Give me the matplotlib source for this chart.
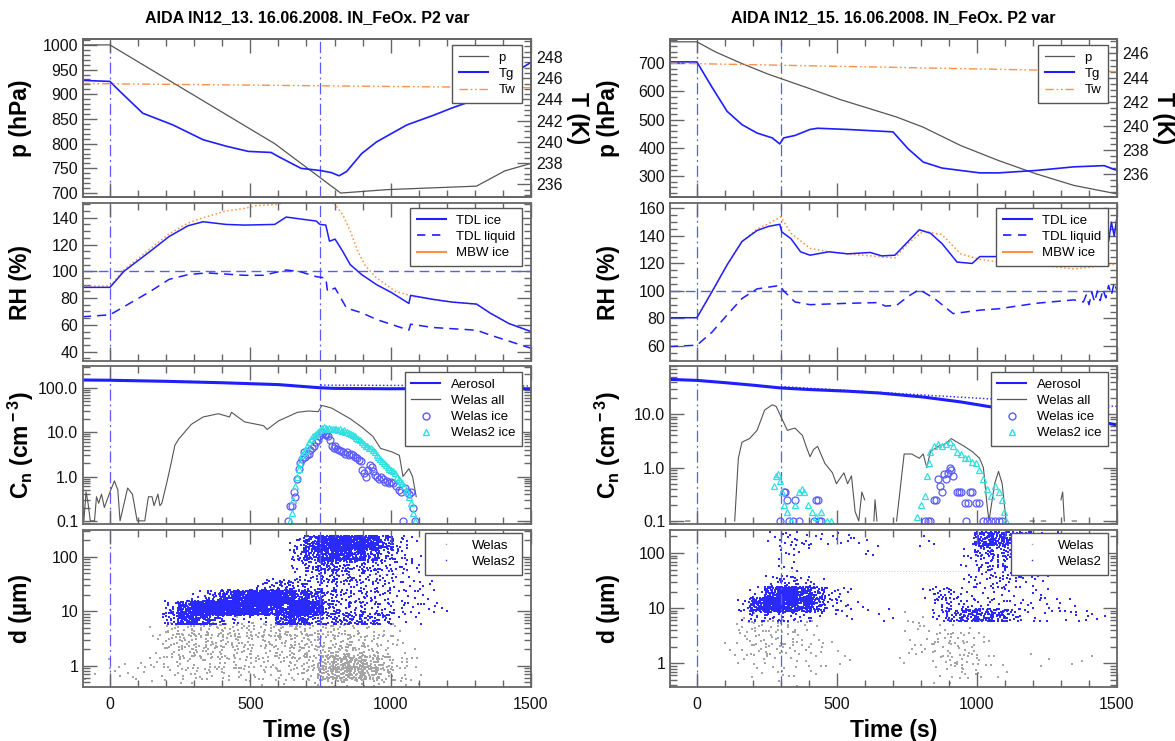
import numpy as np
import matplotlib
matplotlib.use('Agg')
import matplotlib.pyplot as plt
from matplotlib.lines import Line2D
from matplotlib.ticker import MultipleLocator, FixedLocator, FixedFormatter, LogLocator, NullFormatter

plt.rcParams['font.family'] = ['Liberation Sans', 'DejaVu Sans']
plt.rcParams['mathtext.fontset'] = 'custom'
plt.rcParams['mathtext.rm'] = 'Liberation Sans:bold'
plt.rcParams['mathtext.it'] = 'Liberation Sans:bold'
plt.rcParams['mathtext.bf'] = 'Liberation Sans:bold'

# ---------------- data, left experiment (IN12_13) ----------------
title_L = 'AIDA IN12_13. 16.06.2008. IN_FeOx. P2 var'
marks_L = [0, 750]

p_t_L = [-100, 0, 587, 822, 990, 1306, 1407, 1500]
p_L = [1000, 1000, 800, 700, 707, 714, 745, 760]
tg_t_L = [-100, 0, 30, 117, 224, 332, 413, 493, 574, 601, 681, 749, 789, 816, 843, 897, 950,
          1004, 1058, 1152, 1219, 1262, 1300, 1445, 1500]
tg_L = [245.8, 245.7, 244.9, 242.7, 241.6, 240.2, 239.6, 239.1, 239.0, 238.6, 237.5, 237.3, 237.1,
        236.8, 237.2, 238.9, 240.0, 240.8, 241.6, 242.5, 243.2, 243.6, 244.1, 246.6, 247.5]
tw_t_L = [-100, 1500]
tw_L = [245.5, 245.1]

ice_t_L = [-100, 0, 50, 144, 211, 278, 332, 413, 480, 587, 628, 681, 735, 748, 769, 782, 802, 829,
           856, 897, 950, 1004, 1065, 1071, 1152, 1219, 1306, 1353, 1421, 1500]
ice_L = [88, 88, 100, 115, 126, 134, 137, 135, 134.5, 135, 140.5, 139, 137.5, 135, 134.5, 122.5, 124,
         115, 105, 97.5, 90, 84, 76, 82, 79, 77, 75.5, 69, 61, 55]
liq_t_L = [-100, 0, 144, 211, 278, 345, 480, 547, 628, 681, 735, 769, 775, 802, 843, 897, 950,
           1065, 1071, 1152, 1306, 1353, 1500]
liq_L = [66, 67.5, 85, 94, 97.5, 98.8, 97, 97, 101, 99.5, 96, 95, 85, 87.5, 72.5, 69, 64, 56, 60.5,
         58, 56, 52.5, 42.5]
mbw_t_L = [-100, 0, 50, 144, 211, 278, 332, 413, 480, 520, 600, 640, 790, 829, 856, 883, 910, 950,
           1017, 1085, 1152, 1219, 1306, 1353, 1421, 1500]
mbw_L = [89, 89, 101, 117, 128, 136, 140, 145, 147, 149, 150, 153, 153, 142.5, 130, 115, 104, 95, 85,
         81, 79, 77, 75.5, 69, 61, 55]

aer_t_L = [-100, 0, 200, 400, 600, 750, 800, 1000, 1200, 1500]
aer_L = [150, 148, 140, 130, 118, 100, 97, 95, 97, 95]
aer_ref_t_L = [750, 1500]
aer_ref_L = [115, 110]
wall_t_L = [-100, -93, -85, -78, -70, -55, -48, -40, -30, -20, 3, 16, 28, 36, 63, 80, 97, 124, 137,
            150, 157, 171, 178, 185, 204, 218, 231, 245, 290, 332, 386, 426, 433, 480, 547, 560, 601,
            668, 708, 742, 755, 789, 816, 856, 897, 937, 964, 1004, 1031, 1044, 1065, 1078, 1091]
wall_L = [0.35, 0.1, 0.45, 0.25, 0.1, 0.1, 0.35, 0.25, 0.4, 0.2, 0.5, 0.8, 0.5, 0.1, 0.55, 0.4, 0.1,
          0.1, 0.35, 0.35, 0.22, 0.4, 0.22, 0.25, 0.8, 2.0, 5.0, 7.0, 15, 22, 26, 22, 28, 17, 14,
          11.5, 18, 28, 30, 29, 40, 35, 28, 20, 13, 8, 4.3, 3.6, 3.0, 1.0, 1.5, 1.0, 0.35]
wice_t_L = [635, 642, 648, 655, 660, 666, 672, 678, 684, 690, 696, 702, 708, 714, 720, 727, 733, 740,
            746, 752, 758, 765, 771, 778, 784, 790, 797, 803, 810, 817, 824, 831, 838, 845, 852, 859,
            866, 873, 880, 887, 893, 899, 905, 911, 918, 925, 932, 938, 945, 952, 958, 965, 972, 979,
            986, 993, 1000, 1010, 1020, 1030, 1038, 1044, 1050, 1058, 1065, 1072, 1078, 1085]
wice_L = [0.1, 0.22, 0.22, 0.45, 0.35, 0.9, 1.5, 2.0, 2.5, 3.5, 2.8, 3.0, 3.2, 4.0, 4.5, 5.0, 6.0,
          6.5, 8.0, 10.0, 9.5, 9.0, 8.5, 8.0, 6.5, 5.0, 4.5, 5.0, 4.2, 4.0, 3.8, 3.5, 3.2, 3.5, 3.0,
          3.2, 3.0, 2.8, 2.6, 2.4, 2.2, 1.4, 1.2, 1.0, 1.4, 1.8, 1.6, 1.3, 1.1, 1.0, 0.9, 1.0, 0.9,
          0.75, 0.8, 0.7, 0.75, 0.7, 0.6, 0.5, 0.45, 0.1, 0.55, 0.45, 0.4, 0.45, 0.2, 0.1]
w2ice_t_L = [640, 647, 653, 660, 666, 672, 678, 684, 690, 697, 703, 710, 716, 722, 729, 735, 742,
             748, 755, 761, 768, 774, 781, 787, 794, 800, 807, 813, 820, 826, 833, 839, 846, 852,
             859, 865, 872, 878, 885, 891, 898, 904, 911, 917, 924, 930, 937, 943, 950, 956, 963,
             969, 976, 982, 989, 995, 1002, 1008, 1015, 1021, 1028, 1034, 1041, 1047, 1054, 1060,
             1067, 1073, 1080, 1086]
w2ice_L = [0.1, 0.15, 0.3, 0.6, 1.0, 1.5, 2.0, 3.0, 3.5, 4.0, 5.0, 6.0, 7.0, 8.0, 8.5, 9.0, 10.0,
           11.0, 12.5, 13.0, 12.5, 12.0, 12.5, 12.0, 12.0, 11.5, 12.0, 11.0, 11.5, 10.5, 11.0, 10.0,
           10.0, 9.5, 9.0, 8.5, 8.0, 7.5, 7.0, 6.5, 6.0, 5.5, 5.0, 5.0, 4.5, 4.5, 4.0, 3.5, 3.0, 2.8,
           2.5, 2.2, 2.0, 1.8, 1.6, 1.5, 1.4, 1.3, 1.2, 1.0, 0.9, 0.8, 0.7, 0.6, 0.5, 0.45, 0.35,
           0.25, 0.15, 0.1]

# particle size clouds: density level (0-9) per 50 s x 0.2 decade cell, top row first
welas2_map_L = [
    '00000000000000026899852100000000',
    '00000000000000035776532100000000',
    '00000000000000023543322100000000',
    '00000000000000012332221100000000',
    '00000000000013432222221110000000',
    '00000000246899865322221110000000',
    '00000037999987698422221111000000',
    '00000047642111664344431100000000',
    '00000000000000000000000000000000',
    '00000000000000000000000000000000',
    '00000000000000000000000000000000',
    '00000000000000000000000000000000',
    '00000000000000000000000000000000',
    '00000000000000000000000000000000',
]
welas_map_L = [
    '00000000000000000000000000000000',
    '00000000000000000000000000000000',
    '00000000000000000000000000000000',
    '00000000000000000000000000000000',
    '00000000000000000000000000000000',
    '00000000011111110000000000000000',
    '00000000000000000000000000000000',
    '00000022222222222111110000000000',
    '00000133333333333332211000000000',
    '00000133333323333333221000000000',
    '00000123332322333444321100000000',
    '00101122222222233677642100000000',
    '10111112222222223677642100000000',
    '00000001100010101222211100000000',
]
edge_t_L = [700, 1050]

# ---------------- data, right experiment (IN12_15) ----------------
title_R = 'AIDA IN12_15. 16.06.2008. IN_FeOx. P2 var'
marks_R = [0, 300]

p_t_R = [-100, 0, 67, 161, 256, 300, 404, 511, 713, 808, 942, 1077, 1211, 1346, 1500]
p_R = [775, 775, 739, 698, 660, 645, 609, 571, 509, 473, 408, 355, 308, 267, 237]
tg_t_R = [-100, 0, 54, 108, 161, 215, 269, 296, 310, 350, 404, 431, 538, 700, 754, 808, 875, 942,
          1010, 1077, 1211, 1346, 1454, 1500]
tg_R = [245.3, 245.3, 243.2, 241.2, 240.1, 239.4, 239.0, 238.5, 239.0, 239.2, 239.7, 239.8, 239.7,
        239.5, 238.1, 237.0, 236.5, 236.3, 236.1, 236.1, 236.3, 236.6, 236.7, 236.3]
tw_t_R = [-100, 1500]
tw_R = [245.2, 244.5]

ice_t_R = [-100, 0, 54, 108, 161, 215, 256, 296, 303, 336, 370, 404, 471, 538, 619, 660, 707, 754,
           794, 834, 875, 929, 983, 1010, 1077, 1117, 1200, 1300, 1400, 1450, 1460, 1470, 1480,
           1490, 1500]
ice_R = [80.5, 80.5, 99.5, 119, 136, 144, 147, 148.5, 143, 138, 128.5, 126, 128.5, 127, 128, 125.5,
         126, 136, 144.5, 142, 134.5, 121, 120, 125, 125, 126, 128, 130, 135, 132, 142, 136, 150,
         140, 154]
liq_t_R = [-100, 0, 54, 108, 161, 215, 296, 310, 350, 404, 538, 646, 673, 713, 754, 794, 848, 915,
           1010, 1077, 1211, 1346, 1380, 1390, 1400, 1410, 1420, 1430, 1440, 1450, 1460, 1470, 1480,
           1490, 1500]
liq_R = [59.5, 60.5, 70, 82.5, 94.5, 101.5, 104, 100, 92, 90, 91, 91.5, 89, 89.5, 96, 101, 94.5,
         83.5, 86, 87, 91, 93.5, 92, 97, 90, 99, 92, 100, 93, 101, 95, 104, 97, 106, 100]
mbw_t_R = [-100, 0, 54, 108, 161, 215, 256, 300, 336, 404, 471, 538, 673, 707, 754, 808, 875, 942,
           1010, 1077, 1211, 1346, 1500]
mbw_R = [80.5, 80.5, 99.5, 119, 136, 145, 149, 154, 142, 131, 128.5, 127, 124.5, 124, 134.5, 143.5,
         141, 127, 123, 121, 119, 116, 119.5]

aer_t_R = [-100, 0, 100, 200, 300, 400, 538, 650, 808, 942, 1077, 1211, 1346, 1420, 1500]
aer_R = [45, 43, 39, 35, 31, 29, 27, 25, 21, 17, 13, 9.5, 8, 7.5, 6.3]
aer_ref_t_R = [300, 1500]
aer_ref_R = [33, 14]
nan = np.nan
wall_t_R = [-40, -25, nan, 135, 148, 161, 188, 215, 242, 269, 283, 296, 323, 350, 377, 390, 404, 417,
            431, 457, 484, 498, 525, 538, 552, 565, 578, 589, 599, nan, 632, 636, 643, nan, 713, 740,
            767, 794, 808, 821, 834, 861, 888, 908, 929, 955, 983, 1009, 1023, 1036, 1043, 1063, 1077,
            1090, 1104, nan, 1190, 1205, nan, 1230, 1245, nan, 1300, 1306, 1312, nan, 1340, 1355]
wall_R = [0.1, 0.1, nan, 0.1, 1.5, 3.0, 3.5, 5.0, 12, 15, 14, 10, 5.0, 5.5, 4.0, 2.5, 1.6, 2.2, 2.5,
          1.2, 0.8, 0.5, 0.8, 0.5, 0.7, 0.15, 0.1, 0.35, 0.25, nan, 0.1, 0.25, 0.1, nan, 0.1, 1.8,
          1.8, 1.5, 1.8, 1.0, 2.0, 2.5, 2.8, 3.5, 3.0, 2.5, 2.0, 1.5, 1.0, 0.2, 0.1, 0.5, 0.85, 0.5,
          0.1, nan, 0.1, 0.1, nan, 0.1, 0.1, nan, 0.25, 0.35, 0.1, nan, 0.1, 0.1]
wice_t_R = [296, 310, 316, 323, 330, 343, 350, 363, 417, 424, 431, 437, 444, 814, 824, 834, 848, 855,
            861, 868, 875, 882, 888, 895, 902, 908, 915, 929, 935, 942, 956, 962, 969, 976, 983, 996,
            1009, 1023, 1036, 1050, 1063, 1077, 1090]
wice_R = [0.1, 0.35, 0.35, 0.25, 0.1, 0.1, 0.25, 0.1, 0.1, 0.25, 0.25, 0.1, 0.1, 0.1, 0.1, 0.1, 0.25,
          0.25, 0.6, 0.45, 0.35, 0.75, 0.6, 0.8, 1.0, 0.9, 0.7, 0.35, 0.35, 0.35, 0.22, 0.1, 0.22,
          0.35, 0.35, 0.22, 0.22, 0.1, 0.1, 0.1, 0.1, 0.1, 0.1]
w2ice_t_R = [276, 283, 289, 296, 303, 310, 323, 336, 350, 363, 377, 384, 397, 410, 424, 444, 464, 478,
             787, 801, 814, 821, 828, 834, 848, 861, 875, 888, 902, 915, 929, 942, 956, 969, 983, 996,
             1009, 1023, 1036, 1050, 1063, 1077, 1090, 1097, 1104]
w2ice_R = [0.45, 0.7, 0.75, 0.55, 0.35, 0.2, 0.15, 0.1, 0.2, 0.35, 0.4, 0.35, 0.2, 0.15, 0.12, 0.15,
           0.1, 0.1, 0.12, 0.2, 0.3, 0.7, 1.2, 2.0, 2.5, 2.8, 2.5, 2.8, 3.0, 2.5, 2.0, 1.8, 1.5, 1.5,
           1.3, 1.2, 0.9, 0.6, 0.4, 0.3, 0.45, 0.35, 0.25, 0.15, 0.1]

welas2_map_R = [
    '00000001211111000010006654320000',
    '00000000110000100000014332210000',
    '00000000100000000000012222100000',
    '00000000100000000000012222110000',
    '00000002321000000000011211100000',
    '00000027975210000013111110100000',
    '00000279865211000002221111111000',
    '00000132221010010002455531101110',
    '00000000000000000000000000000000',
    '00000000000000000000000000000000',
    '00000000000000000000000000000000',
    '00000000000000000000000000000000',
    '00000000000000000000000000000000',
    '00000000000000000000000000000000',
]
welas_map_R = [
    '00000000000000000000000000000000',
    '00000000000000000000000000000000',
    '00000000000000000000000000000000',
    '00000000000000000000000000000000',
    '00000000000000000000000000000000',
    '00000011110000000000000000000000',
    '00000000000000000000000000000000',
    '00000222110000000100000000000000',
    '00000222211000000111110000000000',
    '00000222211000000112211000000000',
    '00001122211100000112221000000000',
    '00000111111010001002221000100100',
    '00000011101000000000221100000000',
    '00000000100000000001100000000000',
]
edge_t_R = [330, 1150]

# shared binning of the size maps and instrument limits
map_t0, map_dt = -100, 50
map_logd0, map_dlog = -0.44, 0.2
dot_count_blue = [0, 4, 10, 18, 28, 42, 60, 82, 112, 150]
dot_count_gray = [0, 3, 6, 11, 17, 25, 35, 46, 60, 80]
welas2_range = [5.8, 240]
edge_d = 48
rh_sat = 100

# ---------------- style ----------------
BLUE = '#1e1eff'
MARK = '#5a5aff'
ORANGE = '#ff9045'
GRAY = '#555555'
CYAN = '#30e0e0'
FRAME = '#666666'
DOT_GRAY = '#a4a4a4'
DOT_BLUE = '#2a2aff'

W, H = 1175, 741
cols_px = [(83, 531), (670, 1117)]
rows_px = [(39, 197), (203, 361), (366, 524), (530, 687)]


def vdc(i, base):
    # van der Corput radical inverse, used to spread dots evenly inside a cell
    f, r = 1.0, 0.0
    while i > 0:
        f /= base
        r += f * (i % base)
        i //= base
    return r


def map_dots(rows, counts, clip=None):
    ts, ds = [], []
    nrow = len(rows)
    for r, line in enumerate(rows):
        k = nrow - 1 - r
        for c, ch in enumerate(line):
            n = counts[int(ch)]
            start = 7 + 37 * c + 131 * k
            for m in range(n):
                u = vdc(start + m, 2)
                v = vdc(start + m, 3)
                t = map_t0 + (c + 0.5 + (u - 0.5) * 1.4) * map_dt
                ld = map_logd0 + (k + 0.5 + (v - 0.5) * 1.3) * map_dlog
                ts.append(t)
                ds.append(10 ** ld)
    ts, ds = np.array(ts), np.array(ds)
    if clip is not None:
        ds = np.clip(ds, clip[0], clip[1])
    return ts, ds


def style(ax, right=True):
    ax.set_xlim(-96, 1500)
    ax.xaxis.set_major_locator(MultipleLocator(500))
    ax.xaxis.set_minor_locator(MultipleLocator(100))
    ax.tick_params(which='both', direction='in', top=True, right=right, colors=FRAME,
                   labelcolor='#111111', labelsize=11.5, width=1.0)
    ax.tick_params(which='major', length=10)
    ax.tick_params(which='minor', length=5)
    ax.tick_params(axis='x', pad=7)
    for s in ax.spines.values():
        s.set_color(FRAME)
        s.set_linewidth(1.3)


def log_ticks(ax, vals, labels):
    ax.set_yscale('log')
    ax.yaxis.set_major_locator(FixedLocator(vals))
    ax.yaxis.set_major_formatter(FixedFormatter(labels))
    ax.yaxis.set_minor_locator(LogLocator(base=10, subs=np.arange(2, 10)))
    ax.yaxis.set_minor_formatter(NullFormatter())


def legend(ax, handles, pad_right, pad_top, axw, axh):
    lg = ax.legend(handles=handles, loc='upper right', borderaxespad=0,
                   bbox_to_anchor=(1 - pad_right / axw, 1 - pad_top / axh),
                   fontsize=9.5, frameon=True, fancybox=False, framealpha=1,
                   edgecolor=GRAY, handlelength=2.2, labelspacing=0.3, borderpad=0.5,
                   handletextpad=0.8)
    lg.get_frame().set_linewidth(1.0)
    lg.set_zorder(20)


fig = plt.figure(figsize=(W / 100, H / 100), dpi=100)

runs = [
    dict(col=0, title=title_L, marks=marks_L, p_t=p_t_L, p=p_L, tg_t=tg_t_L, tg=tg_L, tw_t=tw_t_L,
         tw=tw_L, plim=(692, 1012), pmaj=50, pmin=10, tlim=(234.8, 249.7),
         ice_t=ice_t_L, ice=ice_L, liq_t=liq_t_L, liq=liq_L, mbw_t=mbw_t_L, mbw=mbw_L,
         rhlim=(33, 151), aer_t=aer_t_L, aer=aer_L, ref_t=aer_ref_t_L, ref=aer_ref_L,
         wall_t=wall_t_L, wall=wall_L, wice_t=wice_t_L, wice=wice_L, w2_t=w2ice_t_L, w2=w2ice_L,
         cnlim=(0.085, 310), cnv=[0.1, 1, 10, 100], cnl=['0.1', '1.0', '10.0', '100.0'],
         m2=welas2_map_L, m1=welas_map_L, edge_t=edge_t_L, dlim=(0.41, 310)),
    dict(col=1, title=title_R, marks=marks_R, p_t=p_t_R, p=p_R, tg_t=tg_t_R, tg=tg_R, tw_t=tw_t_R,
         tw=tw_R, plim=(226, 785), pmaj=100, pmin=20, tlim=(234.1, 247.2),
         ice_t=ice_t_R, ice=ice_R, liq_t=liq_t_R, liq=liq_R, mbw_t=mbw_t_R, mbw=mbw_R,
         rhlim=(49, 164), aer_t=aer_t_R, aer=aer_R, ref_t=aer_ref_t_R, ref=aer_ref_R,
         wall_t=wall_t_R, wall=wall_R, wice_t=wice_t_R, wice=wice_R, w2_t=w2ice_t_R, w2=w2ice_R,
         cnlim=(0.088, 80), cnv=[0.1, 1, 10], cnl=['0.1', '1.0', '10.0'],
         m2=welas2_map_R, m1=welas_map_R, edge_t=edge_t_R, dlim=(0.37, 262)),
]

dashdot = (0, (9, 3, 1.5, 3))
tw_style = (0, (6, 2, 1.2, 2, 1.2, 2))

for run in runs:
    x0, x1 = cols_px[run['col']]
    axw = x1 - x0
    axes = []
    for (y0, y1) in rows_px:
        a = fig.add_axes([x0 / W, 1 - y1 / H, axw / W, (y1 - y0) / H])
        axes.append(a)
    ax1, ax2, ax3, ax4 = axes
    axh = rows_px[0][1] - rows_px[0][0]

    # pressure and temperature
    style(ax1, right=False)
    ax1.plot(run['p_t'], run['p'], color=GRAY, lw=0.9)
    ax1.set_ylim(*run['plim'])
    ax1.yaxis.set_major_locator(MultipleLocator(run['pmaj']))
    ax1.yaxis.set_minor_locator(MultipleLocator(run['pmin']))
    axt = ax1.twinx()
    axt.plot(run['tg_t'], run['tg'], color=BLUE, lw=1.2)
    axt.plot(run['tw_t'], run['tw'], color=ORANGE, lw=1.0, ls=tw_style)
    axt.set_ylim(*run['tlim'])
    axt.yaxis.set_major_locator(MultipleLocator(2))
    axt.yaxis.set_minor_locator(MultipleLocator(0.5))
    axt.tick_params(which='both', direction='in', colors=FRAME, labelcolor='#111111',
                    labelsize=11.5, width=1.0)
    axt.tick_params(which='major', length=10)
    axt.tick_params(which='minor', length=5)
    for s in axt.spines.values():
        s.set_color(FRAME)
        s.set_linewidth(1.3)
    axt.set_ylabel('T (K)', fontsize=16.5, fontweight='bold', rotation=270)
    axt.yaxis.set_label_coords(1.103, 0.5)
    axt.yaxis.label.set_va('center')
    ax1.set_title(run['title'], fontsize=11.5, fontweight='bold', pad=12)
    legend(axt, [Line2D([], [], color=GRAY, lw=0.9, label='p'),
                 Line2D([], [], color=BLUE, lw=1.5, label='Tg'),
                 Line2D([], [], color=ORANGE, lw=1.0, ls=tw_style, label='Tw')], 9, 6, axw, axh)

    # relative humidity
    style(ax2)
    ax2.axhline(rh_sat, color=MARK, lw=1.0, ls=(0, (7, 4)))
    ax2.plot(run['mbw_t'], run['mbw'], color=ORANGE, lw=1.1, ls=':')
    ax2.plot(run['ice_t'], run['ice'], color=BLUE, lw=1.1)
    ax2.plot(run['liq_t'], run['liq'], color=BLUE, lw=1.1, ls=(0, (6, 4)))
    ax2.set_ylim(*run['rhlim'])
    ax2.yaxis.set_major_locator(MultipleLocator(20))
    ax2.yaxis.set_minor_locator(MultipleLocator(5))
    legend(ax2, [Line2D([], [], color=BLUE, lw=1.5, label='TDL ice'),
                 Line2D([], [], color=BLUE, lw=1.2, ls=(0, (5, 4)), label='TDL liquid'),
                 Line2D([], [], color=ORANGE, lw=1.5, label='MBW ice')], 9, 5, axw, axh)

    # number concentrations
    style(ax3)
    ax3.plot(run['ref_t'], run['ref'], color=BLUE, lw=1.0, ls=':')
    ax3.plot(run['aer_t'], run['aer'], color=BLUE, lw=2.2)
    ax3.plot(run['wall_t'], run['wall'], color=GRAY, lw=0.8)
    ax3.plot(run['wice_t'], run['wice'], ls='none', marker='o', ms=5, mfc='none', mec=MARK, mew=0.9)
    ax3.plot(run['w2_t'], run['w2'], ls='none', marker='^', ms=5, mfc='none', mec=CYAN, mew=0.9)
    log_ticks(ax3, run['cnv'], run['cnl'])
    ax3.set_ylim(*run['cnlim'])
    legend(ax3, [Line2D([], [], color=BLUE, lw=1.5, label='Aerosol'),
                 Line2D([], [], color=GRAY, lw=0.9, label='Welas all'),
                 Line2D([], [], ls='none', marker='o', ms=5, mfc='none', mec=MARK, label='Welas ice'),
                 Line2D([], [], ls='none', marker='^', ms=5, mfc='none', mec=CYAN,
                        label='Welas2 ice')], 9, 6, axw, axh)

    # particle sizes
    style(ax4)
    t1, d1 = map_dots(run['m1'], dot_count_gray)
    t2, d2 = map_dots(run['m2'], dot_count_blue, clip=welas2_range)
    ax4.scatter(t1, d1, s=0.7, marker='s', lw=0, c=DOT_GRAY)
    ax4.plot(run['edge_t'], [edge_d, edge_d], color='#b8b8b8', lw=0.6, ls=(0, (1, 2.5)))
    ax4.scatter(t2, d2, s=0.7, marker='s', lw=0, c=DOT_BLUE)
    log_ticks(ax4, [1, 10, 100], ['1', '10', '100'])
    ax4.set_ylim(*run['dlim'])
    legend(ax4, [Line2D([], [], ls='none', marker='s', ms=1.0, mfc=DOT_GRAY, mec='none', label='Welas'),
                 Line2D([], [], ls='none', marker='s', ms=1.0, mfc=DOT_BLUE, mec='none', label='Welas2')],
           9, 3, axw, axh)
    ax4.set_xlabel('Time (s)', fontsize=16.5, fontweight='bold', labelpad=5)

    for a in axes:
        for m in run['marks']:
            a.axvline(m, color=MARK, lw=0.9, ls=dashdot, zorder=1)
    for a in axes[:3]:
        a.tick_params(axis='x', labelbottom=False)

    labels = ['p (hPa)', 'RH (%)', r'C$_{\rm n}$ (cm$^{\rm -3}$)', 'd (µm)']
    for a, lab in zip(axes, labels):
        a.set_ylabel(lab, fontsize=16.5, fontweight='bold')
        a.yaxis.set_label_coords(-62 / axw, 0.5)
        a.yaxis.label.set_va('center')

fig.savefig('out.png', dpi=100)
